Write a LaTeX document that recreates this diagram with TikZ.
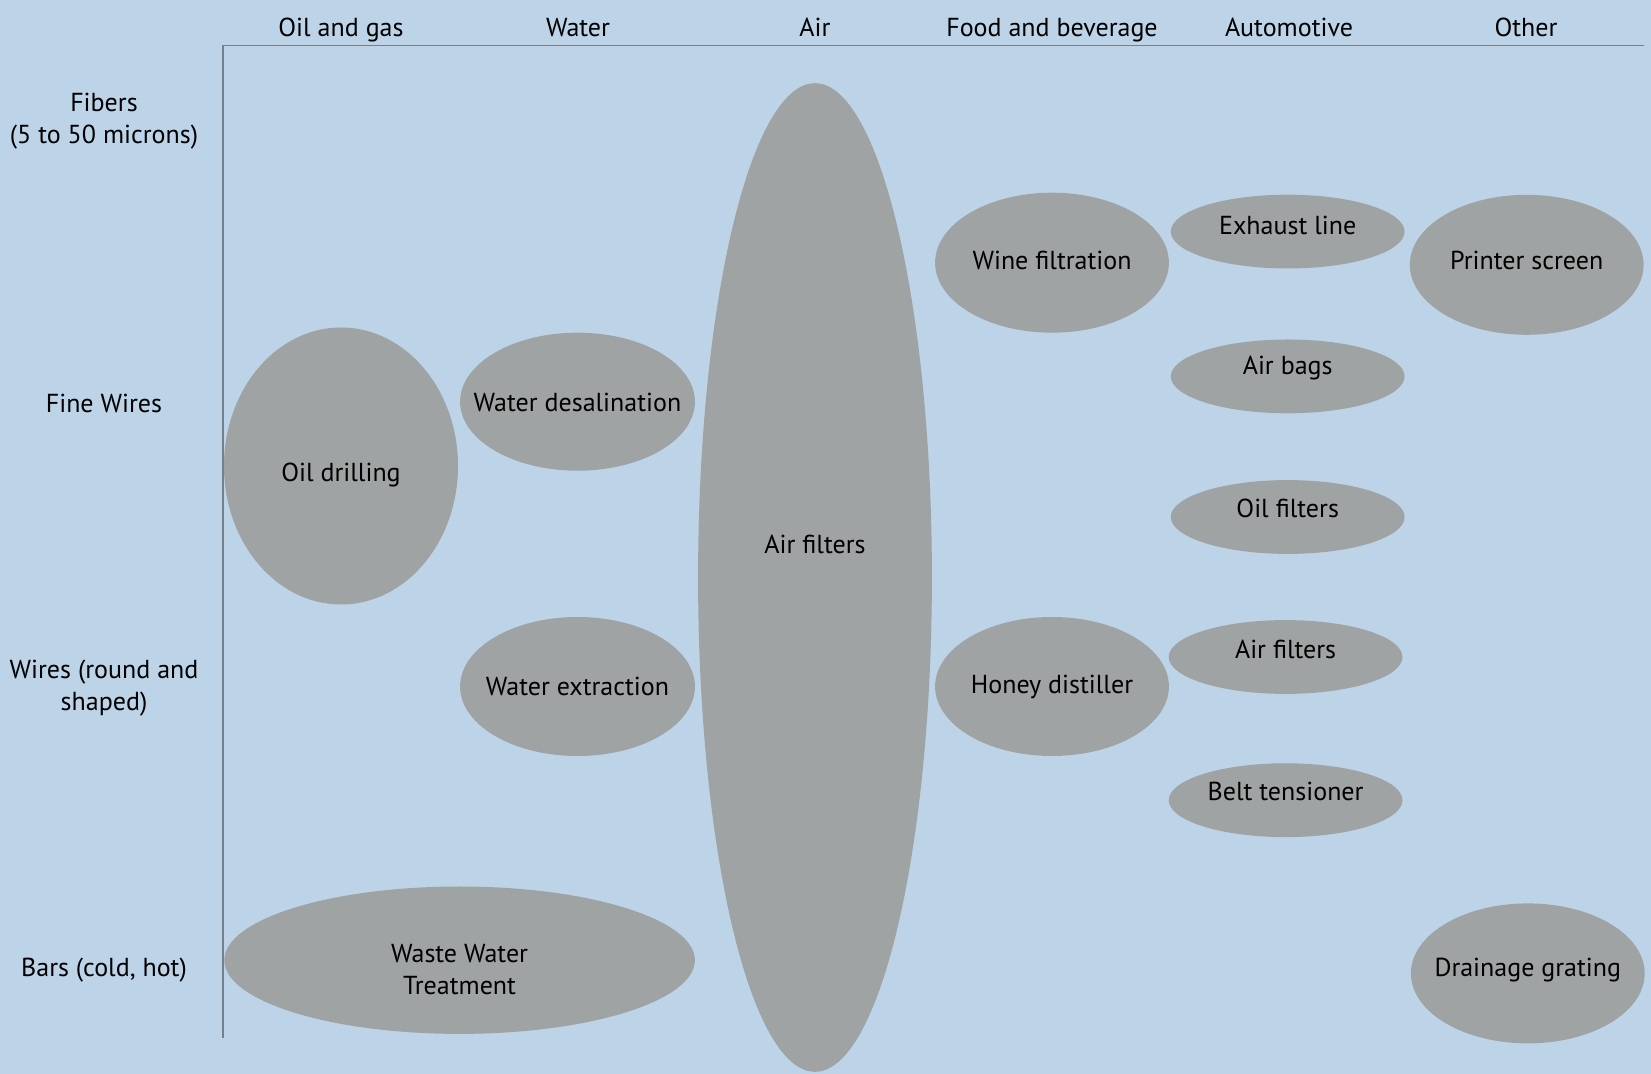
\documentclass[tikz,border=0pt]{standalone}
\usepackage{fontspec}
\setmainfont{PT Sans}
\usetikzlibrary{shapes.geometric}
\definecolor{bgc}{HTML}{BDD3E7}
\definecolor{blobc}{HTML}{9FA3A3}
\definecolor{axisc}{HTML}{76808A}
\begin{document}
\begin{tikzpicture}[x=0.5pt,y=-0.5pt,font=\fontsize{13}{16}\selectfont,
  blob/.style={ellipse, fill=blobc, inner sep=0pt, draw=none},
  lbl/.style={align=center, inner sep=0pt, text=black},
  hdr/.style={align=center, inner sep=0pt, text=black},
  axisline/.style={draw=axisc, line width=0.6pt}]
\path[use as bounding box, fill=bgc] (0,0) rectangle (1651,1074);
% headers
\node[hdr, anchor=base] (h1) at (341,36.5) {Oil and gas};
\node[hdr, anchor=base] (h2) at (578,36.5) {Water};
\node[hdr, anchor=base] (h3) at (815,36.5) {Air};
\node[hdr, anchor=base] (h4) at (1052,36.5) {Food and beverage};
\node[hdr, anchor=base] (h5) at (1289,36.5) {Automotive};
\node[hdr, anchor=base] (h6) at (1526,36.5) {Other};
% axes
\coordinate (axR) at (1644,45.5);
\coordinate (ax0) at (223,45.5);
\coordinate (axB) at (223,1038);
\draw[axisline] (axR) -- (ax0) -- (axB);
% row labels
\node[hdr] (r1) at (104,121) {Fibers\\(5 to 50 microns)};
\node[hdr] (r2) at (104,403) {Fine Wires};
\node[hdr] (r3) at (104,688) {Wires (round and\\shaped)};
\node[hdr] (r4) at (104,970) {Bars (cold, hot)};
% ellipses
\node[blob, minimum width=117pt, minimum height=138.5pt, label={[lbl,yshift=-4.5pt]center:Oil drilling}] (oil) at (341,466) {};
\node[blob, minimum width=117.4pt, minimum height=69pt, label={[lbl,yshift=-0.6pt]center:Water desalination}] (desal) at (577.5,401.7) {};
\node[blob, minimum width=117.4pt, minimum height=69.5pt, label={[lbl]center:Water extraction}] (extr) at (577.5,686.5) {};
\node[blob, minimum width=235.3pt, minimum height=73.7pt, label={[lbl,yshift=-4.5pt]center:Waste Water\\Treatment}] (waste) at (459.6,960.2) {};
\node[blob, minimum width=116.9pt, minimum height=494.3pt, label={[lbl,yshift=16.5pt]center:Air filters}] (air) at (815,577.5) {};
\node[blob, minimum width=116.9pt, minimum height=70pt, label={[lbl,yshift=1.3pt]center:Wine filtration}] (wine) at (1052,262.7) {};
\node[blob, minimum width=116.9pt, minimum height=69.5pt, label={[lbl]center:Honey distiller}] (honey) at (1052,686.5) {};
\node[blob, minimum width=116.9pt, minimum height=36.9pt, label={[lbl,yshift=3.2pt]center:Exhaust line}] (exh) at (1287.7,231.6) {};
\node[blob, minimum width=116.9pt, minimum height=36.9pt, label={[lbl,yshift=4.2pt]center:Air bags}] (bags) at (1287.7,376.4) {};
\node[blob, minimum width=116.9pt, minimum height=36.9pt, label={[lbl,yshift=4.2pt]center:Oil filters}] (oilf) at (1287.7,517) {};
\node[blob, minimum width=116.9pt, minimum height=36.9pt, label={[lbl,yshift=3.7pt]center:Air filters}] (airf) at (1285.6,657) {};
\node[blob, minimum width=116.9pt, minimum height=36.9pt, label={[lbl,yshift=4.2pt]center:Belt tensioner}] (belt) at (1285.6,800.2) {};
\node[blob, minimum width=116.9pt, minimum height=70pt, label={[lbl,yshift=2.4pt]center:Printer screen}] (print) at (1526.7,264.8) {};
\node[blob, minimum width=116.9pt, minimum height=70pt, label={[lbl,yshift=1.6pt]center:Drainage grating}] (drain) at (1527.8,973.4) {};
\end{tikzpicture}
\end{document}
